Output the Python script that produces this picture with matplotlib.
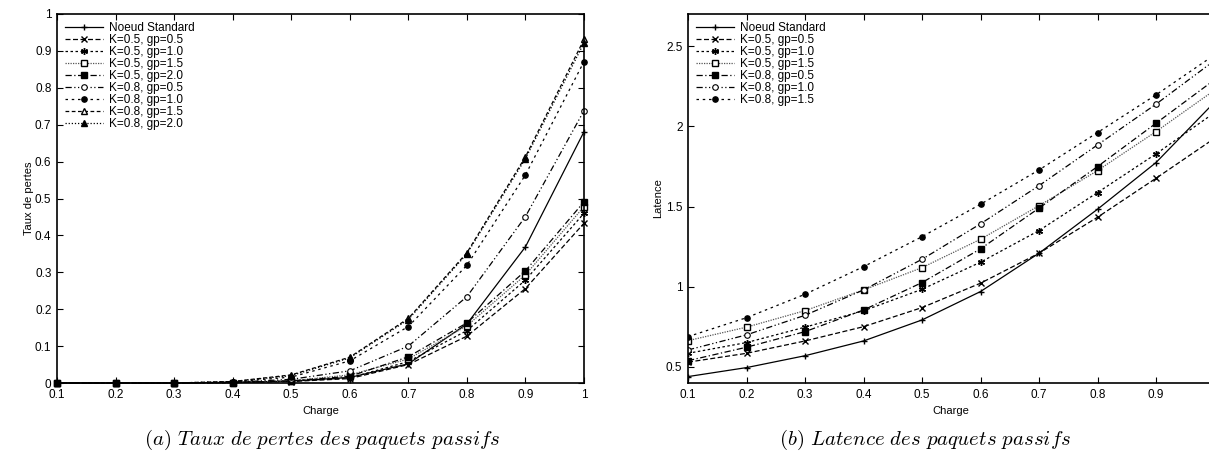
import numpy as np
import matplotlib
matplotlib.use('Agg')
import matplotlib.pyplot as plt

plt.rcParams['font.family'] = ['Liberation Sans', 'DejaVu Sans']
plt.rcParams['mathtext.fontset'] = 'cm'

# (a) taux de pertes
charge_a = [0.1, 0.2, 0.3, 0.4, 0.5, 0.6, 0.7, 0.8, 0.9, 1.0]
labels_a = ["Noeud Standard", "K=0.5, gp=0.5", "K=0.5, gp=1.0", "K=0.5, gp=1.5",
            "K=0.5, gp=2.0", "K=0.8, gp=0.5", "K=0.8, gp=1.0", "K=0.8, gp=1.5",
            "K=0.8, gp=2.0"]
std_a = [0, 0, 0, 0.002, 0.005, 0.015, 0.052, 0.160, 0.369, 0.681]
k05_05_a = [0, 0, 0, 0.001, 0.004, 0.012, 0.050, 0.127, 0.256, 0.433]
k05_10_a = [0, 0, 0, 0.001, 0.005, 0.014, 0.058, 0.142, 0.279, 0.460]
k05_15_a = [0, 0, 0, 0.001, 0.006, 0.022, 0.065, 0.155, 0.293, 0.478]
k05_20_a = [0, 0, 0, 0.001, 0.006, 0.018, 0.071, 0.163, 0.304, 0.491]
k08_05_a = [0, 0, 0, 0.002, 0.010, 0.033, 0.100, 0.234, 0.451, 0.738]
k08_10_a = [0, 0, 0, 0.003, 0.016, 0.060, 0.153, 0.319, 0.564, 0.871]
k08_15_a = [0, 0, 0, 0.004, 0.022, 0.070, 0.175, 0.353, 0.613, 0.931]
k08_20_a = [0, 0, 0, 0.004, 0.020, 0.068, 0.172, 0.350, 0.608, 0.922]

# (b) latence
charge_b = [0.1, 0.2, 0.3, 0.4, 0.5, 0.6, 0.7, 0.8, 0.9, 1.0]
labels_b = ["Noeud Standard", "K=0.5, gp=0.5", "K=0.5, gp=1.0", "K=0.5, gp=1.5",
            "K=0.8, gp=0.5", "K=0.8, gp=1.0", "K=0.8, gp=1.5"]
std_b = [0.44, 0.496, 0.57, 0.662, 0.793, 0.97, 1.209, 1.483, 1.774, 2.15]
k05_05_b = [0.53, 0.585, 0.662, 0.751, 0.87, 1.022, 1.209, 1.433, 1.676, 1.925]
k05_10_b = [0.585, 0.652, 0.748, 0.85, 0.984, 1.153, 1.35, 1.587, 1.828, 2.085]
k05_15_b = [0.664, 0.748, 0.851, 0.98, 1.119, 1.296, 1.505, 1.724, 1.967, 2.225]
k08_05_b = [0.539, 0.623, 0.72, 0.855, 1.026, 1.236, 1.49, 1.749, 2.019, 2.29]
k08_10_b = [0.606, 0.70, 0.822, 0.98, 1.171, 1.392, 1.63, 1.884, 2.138, 2.41]
k08_15_b = [0.689, 0.807, 0.953, 1.125, 1.312, 1.514, 1.728, 1.961, 2.196, 2.445]

# styles facon gnuplot
sty_std = dict(color='black', ls='-', marker='+', ms=5, mfc='black')
sty_x = dict(color='black', ls=(0, (4, 2)), marker='x', ms=4)
sty_star = dict(color='black', ls=(0, (2, 2)), marker=(6, 2, 0), ms=5)
sty_osq = dict(color='#555555', ls=(0, (1, 1)), marker='s', ms=4, mfc='white', mec='black')
sty_fsq = dict(color='black', ls=(0, (5, 2, 1, 2)), marker='s', ms=5, mfc='black')
sty_oci = dict(color='black', ls=(0, (5, 2, 1, 2, 1, 2)), marker='o', ms=4, mfc='white', mew=0.8)
sty_fci = dict(color='black', ls=(0, (2, 3)), marker='o', ms=3.8, mfc='black')
sty_otr = dict(color='black', ls=(0, (3, 2)), marker='^', ms=4.2, mfc='white')
sty_ftr = dict(color='black', ls=(0, (1, 1.5)), marker='^', ms=4.2, mfc='black')

fig = plt.figure(figsize=(12.09, 4.63), dpi=100)
ax1 = fig.add_axes([57 / 1209, 80 / 463, 527 / 1209, 369 / 463])
ax2 = fig.add_axes([688 / 1209, 80 / 463, 526.5 / 1209, 369 / 463])

series_a = [std_a, k05_05_a, k05_10_a, k05_15_a, k05_20_a, k08_05_a, k08_10_a, k08_15_a, k08_20_a]
styles_a = [sty_std, sty_x, sty_star, sty_osq, sty_fsq, sty_oci, sty_fci, sty_otr, sty_ftr]
for y, st, lab in zip(series_a, styles_a, labels_a):
    ax1.plot(charge_a, y, lw=0.9, label=lab, clip_on=False, **st)

series_b = [std_b, k05_05_b, k05_10_b, k05_15_b, k08_05_b, k08_10_b, k08_15_b]
styles_b = [sty_std, sty_x, sty_star, sty_osq, sty_fsq, sty_oci, sty_fci]
for y, st, lab in zip(series_b, styles_b, labels_b):
    ax2.plot(charge_b, y, lw=0.9, label=lab, **st)

ax1.set_xlim(0.1, 1.0)
ax1.set_ylim(0, 1)
ax1.set_xticks(np.arange(0.1, 1.01, 0.1))
ax1.set_xticklabels(['0.1', '0.2', '0.3', '0.4', '0.5', '0.6', '0.7', '0.8', '0.9', '1'])
ax1.set_yticks(np.arange(0, 1.01, 0.1))
ax1.set_yticklabels(['0', '0.1', '0.2', '0.3', '0.4', '0.5', '0.6', '0.7', '0.8', '0.9', '1'])
ax1.set_xlabel("Charge", fontsize=8)
ax1.set_ylabel("Taux de pertes", fontsize=8, labelpad=1)

ax2.set_xlim(0.1, 1.0)
ax2.set_ylim(0.4, 2.7)
ax2.set_xticks(np.arange(0.1, 0.91, 0.1))
ax2.set_xticklabels(['0.1', '0.2', '0.3', '0.4', '0.5', '0.6', '0.7', '0.8', '0.9'])
ax2.set_yticks([0.5, 1, 1.5, 2, 2.5])
ax2.set_yticklabels(['0.5', '1', '1.5', '2', '2.5'])
ax2.set_xlabel("Charge", fontsize=8)
ax2.set_ylabel("Latence", fontsize=8, labelpad=2)

for ax in (ax1, ax2):
    ax.tick_params(direction='in', top=True, right=True, labelsize=8.5, length=4, width=0.8, pad=4)
    for s in ax.spines.values():
        s.set_linewidth(1.2)
    ax.legend(loc='upper left', frameon=False, fontsize=8.5, handlelength=3.2,
              labelspacing=0.0, borderaxespad=0.4, handletextpad=0.5, borderpad=0.3)

fig.text(322 / 1209, 1 - 440 / 463, r'$\mathit{(a)\ Taux\ de\ pertes\ des\ paquets\ passifs}$',
         ha='center', va='center', fontsize=15)
fig.text(925 / 1209, 1 - 440 / 463, r'$\mathit{(b)\ Latence\ des\ paquets\ passifs}$',
         ha='center', va='center', fontsize=15)

fig.savefig('out.png', dpi=100)
